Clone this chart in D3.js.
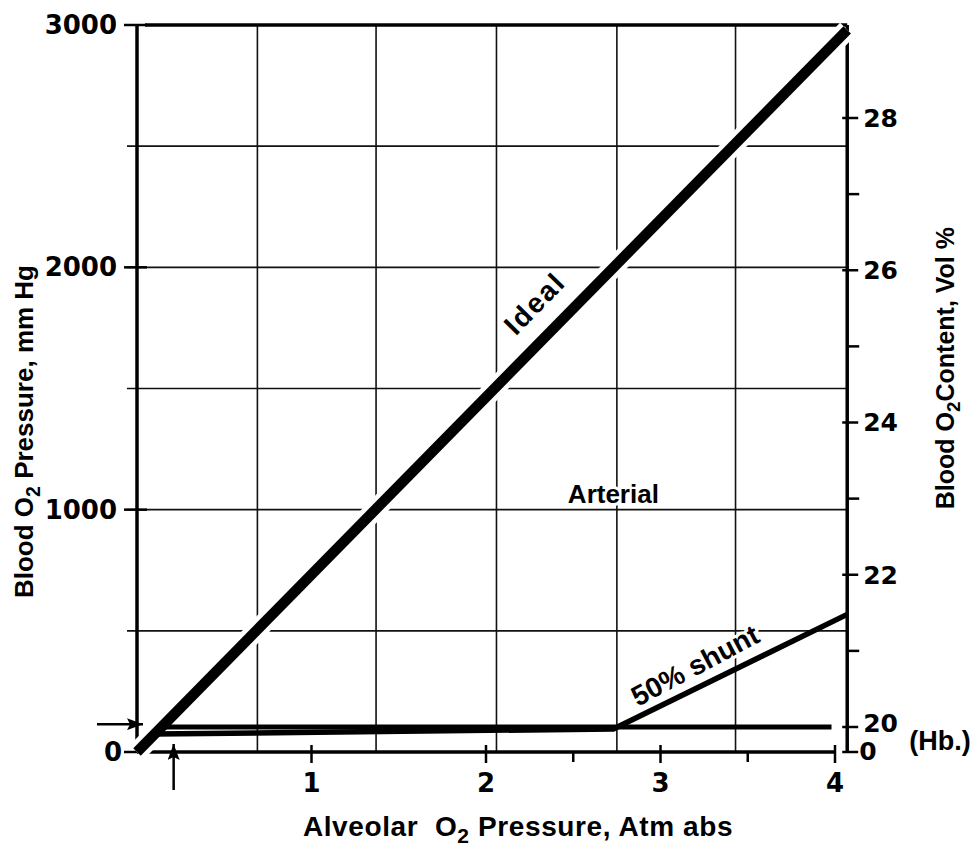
<!DOCTYPE html>
<html>
<head>
<meta charset="utf-8">
<script src="https://cdn.jsdelivr.net/npm/d3@7"></script>
<style>
  body { margin: 0; background: #fff; }
  text { fill: #000; }
  .num { font-family: "DejaVu Sans", sans-serif; font-weight: bold; }
  .lbl { font-family: "Liberation Sans", Arial, sans-serif; font-weight: bold; white-space: pre; }
</style>
</head>
<body>
<svg width="973" height="848"></svg>
<script>
// axis ticks
const xTicks = [1, 2, 3, 4]
const xMinorTicks = [2.5, 3.5]
const yTicks = [0, 1000, 2000, 3000]
const yGrid = [500, 1000, 1500, 2000, 2500]
const xGrid = [0.69, 1.37, 2.06, 2.75, 3.43]   // paper grid, atm
const rightTicks = [20, 22, 24, 26, 28]
const rightMinorTicks = [21, 23, 25, 27]
const frameMax = 4.07

// curves (atm, mm Hg)
const idealAtm = [0, 4.07]
const idealPO2 = [0, 2980]
const arterialAtm = [0.10, 2.73, 4.07]
const arterialPO2 = [74, 95, 568]
// Hb capacity line (vol %)
const hbAtm = [0.155, 3.98]
const hbContent = [20, 20]
// arrows: air and normal arterial PO2
const airAtm = 0.21
const normalPO2 = 115

const svg = d3.select("svg")

const x = d3.scaleLinear().domain([0, 4]).range([137, 835])
const y = d3.scaleLinear().domain([0, 3000]).range([752, 25])
const yR = d3.scaleLinear().domain([0, 20, 28]).range([752, 727, 118])

const x0 = x(0), xR = x(frameMax), y0 = y(0), yTop = y(3000)

// grid
const grid = svg.append("g").attr("stroke", "#111").attr("stroke-width", 1.6)
grid.selectAll("line.h").data(yGrid).enter().append("line")
  .attr("x1", x0 - 10).attr("x2", xR)
  .attr("y1", d => y(d)).attr("y2", d => y(d))
grid.selectAll("line.v").data(xGrid).enter().append("line")
  .attr("x1", d => x(d)).attr("x2", d => x(d))
  .attr("y1", yTop).attr("y2", y0)

// frame / axes
const axes = svg.append("g").attr("stroke", "#000").attr("stroke-width", 3.5)
axes.append("line").attr("x1", x0).attr("x2", x0).attr("y1", yTop).attr("y2", y0 + 1)
axes.append("line").attr("x1", x0 + 8).attr("x2", xR).attr("y1", yTop).attr("y2", yTop)
axes.append("line").attr("x1", xR).attr("x2", xR).attr("y1", yTop).attr("y2", y0)
axes.append("line").attr("x1", x0).attr("x2", x(4)).attr("y1", y0).attr("y2", y0)

// left ticks
axes.selectAll("line.yt").data(yTicks).enter().append("line")
  .attr("stroke-width", 2.5)
  .attr("x1", x0 - 13).attr("x2", d => d === 0 ? x0 : x0 + 10)
  .attr("y1", d => y(d)).attr("y2", d => y(d))
svg.selectAll("text.yl").data(yTicks).enter().append("text")
  .attr("class", "num")
  .attr("font-size", 26)
  .attr("text-anchor", "end")
  .attr("x", d => d === 0 ? x0 - 15 : x0 - 20)
  .attr("y", d => y(d))
  .attr("dy", "0.35em")
  .text(d => d)

// bottom ticks
axes.selectAll("line.xt").data(xTicks).enter().append("line")
  .attr("stroke-width", 2.5)
  .attr("x1", d => x(d)).attr("x2", d => x(d))
  .attr("y1", y0 - 7).attr("y2", y0 + 11)
axes.selectAll("line.xm").data(xMinorTicks).enter().append("line")
  .attr("stroke-width", 2.5)
  .attr("x1", d => x(d)).attr("x2", d => x(d))
  .attr("y1", y0).attr("y2", y0 + 10)
svg.selectAll("text.xl").data(xTicks).enter().append("text")
  .attr("class", "num")
  .attr("font-size", 26)
  .attr("text-anchor", "middle")
  .attr("x", d => x(d))
  .attr("y", 792)
  .text(d => d)

// right ticks
axes.selectAll("line.rt").data([0].concat(rightTicks)).enter().append("line")
  .attr("stroke-width", 2.5)
  .attr("x1", xR - 5).attr("x2", xR + 11)
  .attr("y1", d => yR(d)).attr("y2", d => yR(d))
axes.selectAll("line.rm").data(rightMinorTicks).enter().append("line")
  .attr("stroke-width", 2.5)
  .attr("x1", xR).attr("x2", xR + 12)
  .attr("y1", d => yR(d)).attr("y2", d => yR(d))
svg.selectAll("text.rl").data(rightTicks).enter().append("text")
  .attr("class", "num")
  .attr("font-size", 25)
  .attr("x", xR + 16)
  .attr("y", d => yR(d))
  .attr("dy", d => d === 20 ? "0.2em" : "0.35em")
  .text(d => d)
svg.append("text").attr("class", "num")
  .attr("font-size", 25)
  .attr("x", xR + 12).attr("y", yR(0)).attr("dy", "0.3em")
  .text("0")
svg.append("text").attr("class", "lbl")
  .attr("font-size", 27)
  .attr("x", xR + 62).attr("y", (yR(0) + yR(20)) / 2 + 1).attr("dy", "0.35em")
  .text("(Hb.)")

// curves
const line = d3.line().x(d => x(d[0])).y(d => y(d[1]))
const ideal = d3.zip(idealAtm, idealPO2)
const arterial = d3.zip(arterialAtm, arterialPO2)
const hb = d3.zip(hbAtm, hbContent)

svg.append("path").datum(ideal)
  .attr("d", line).attr("fill", "none")
  .attr("stroke", "#fff").attr("stroke-width", 20)
svg.append("path").datum(hb)
  .attr("d", d3.line().x(d => x(d[0])).y(d => yR(d[1])))
  .attr("fill", "none").attr("stroke", "#000").attr("stroke-width", 5)
svg.append("path").datum(arterial)
  .attr("d", line).attr("fill", "none")
  .attr("stroke", "#000").attr("stroke-width", 5.5)
  .attr("stroke-linejoin", "round")
svg.append("path").datum(ideal)
  .attr("d", line).attr("fill", "none")
  .attr("stroke", "#000").attr("stroke-width", 10.5)

// arrows
svg.append("defs").append("marker")
  .attr("id", "head")
  .attr("viewBox", "0 0 16 12")
  .attr("refX", 16).attr("refY", 6)
  .attr("markerWidth", 16).attr("markerHeight", 12)
  .attr("markerUnits", "userSpaceOnUse")
  .attr("orient", "auto")
  .append("path").attr("d", "M0,0L16,6L0,12L3,6Z").attr("fill", "#000")
svg.append("line")
  .attr("x1", x0 - 40).attr("x2", x0 + 6)
  .attr("y1", y(normalPO2)).attr("y2", y(normalPO2))
  .attr("stroke", "#000").attr("stroke-width", 2.5)
  .attr("marker-end", "url(#head)")
svg.append("line")
  .attr("x1", x(airAtm)).attr("x2", x(airAtm))
  .attr("y1", y0 + 38).attr("y2", y0 - 8)
  .attr("stroke", "#000").attr("stroke-width", 2.5)
  .attr("marker-end", "url(#head)")

// curve labels
const angle = (a, b) => Math.atan2(y(b[1]) - y(a[1]), x(b[0]) - x(a[0])) * 180 / Math.PI
const halo = sel => sel.attr("stroke", "#fff").attr("stroke-width", 6)
  .attr("paint-order", "stroke").attr("stroke-linejoin", "round")

svg.append("text").attr("class", "lbl")
  .attr("font-size", 28).attr("letter-spacing", 2)
  .attr("transform", `translate(${x(2.17)},${y(1715)}) rotate(${angle(ideal[0], ideal[1])})`)
  .call(halo)
  .text("Ideal")
svg.append("text").attr("class", "lbl")
  .attr("font-size", 26).attr("text-anchor", "middle")
  .attr("x", x(2.73)).attr("y", y(1028))
  .call(halo)
  .text("Arterial")
svg.append("text").attr("class", "lbl")
  .attr("font-size", 28)
  .attr("transform", `translate(${x(2.87)},${y(186)}) rotate(-28)`)
  .call(halo)
  .text("50% shunt")

// axis titles
const title = (g, parts, size) => {
  g.append("tspan").text(parts[0])
  g.append("tspan").attr("font-size", size * 0.75).attr("dy", size * 0.25).text("2")
  g.append("tspan").attr("dy", -size * 0.25).text(parts[1])
}
svg.append("text").attr("class", "lbl")
  .attr("font-size", 28).attr("letter-spacing", 0.6)
  .attr("text-anchor", "middle")
  .attr("x", 518).attr("y", 836)
  .call(title, ["Alveolar  O", " Pressure, Atm abs"], 28)
svg.append("text").attr("class", "lbl")
  .attr("font-size", 26).attr("text-anchor", "end")
  .attr("transform", "translate(33,265) rotate(-90)")
  .call(title, ["Blood O", " Pressure, mm Hg"], 26)
svg.append("text").attr("class", "lbl")
  .attr("font-size", 25).attr("text-anchor", "end")
  .attr("transform", "translate(954,227) rotate(-90)")
  .call(title, ["Blood O", "Content, Vol %"], 25)
</script>
</body>
</html>
